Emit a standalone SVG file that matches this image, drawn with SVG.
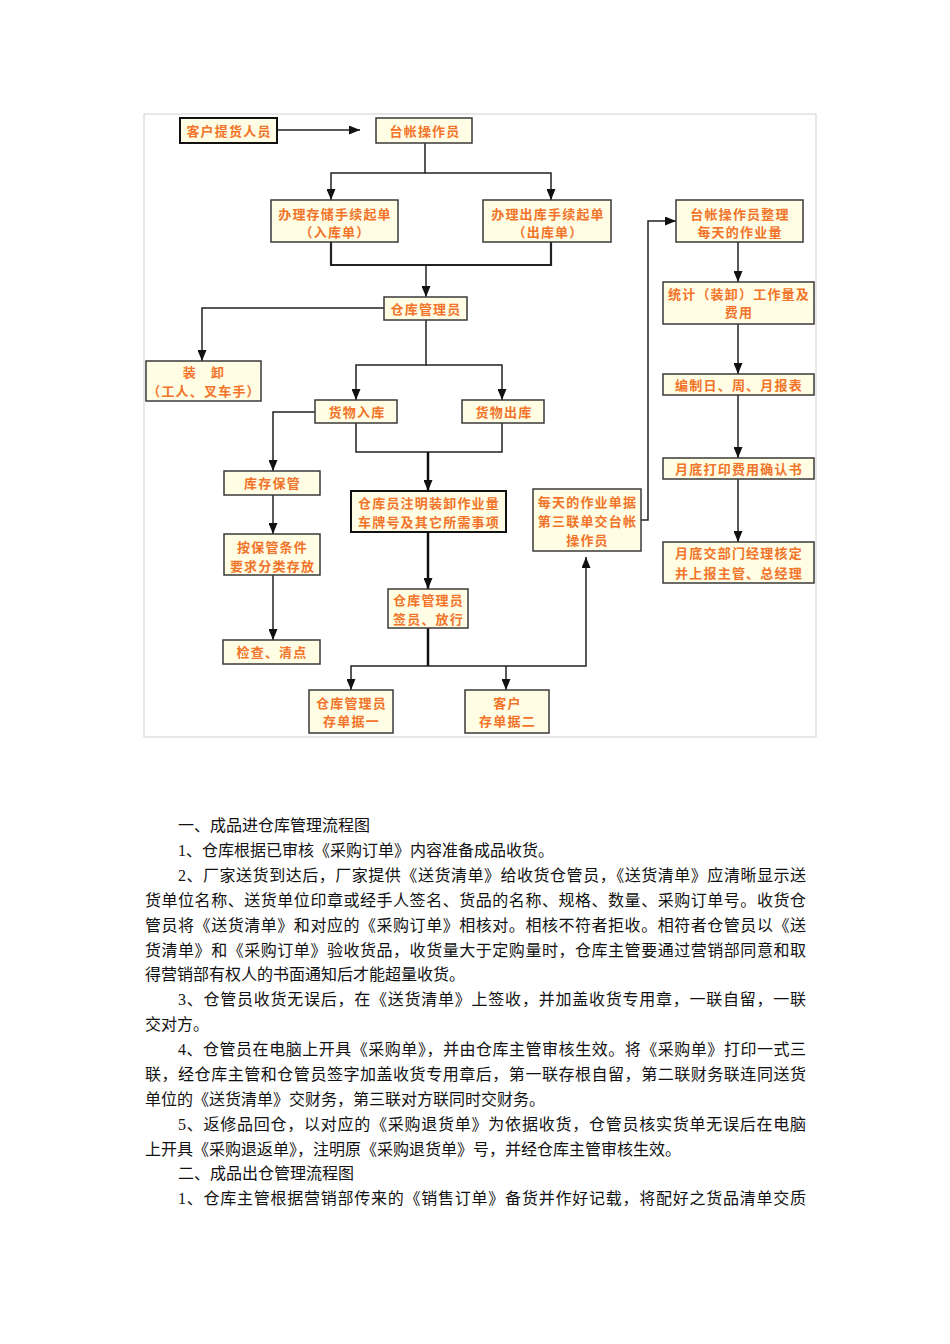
<svg xmlns="http://www.w3.org/2000/svg" width="950" height="1344" viewBox="0 0 950 1344">
<style>
.bx{fill:#FFFDE3;stroke:#3a3a3a;stroke-width:1.5}
.bxk{fill:#FFFDE3;stroke:#111;stroke-width:2}
.t{font-family:"Noto Sans CJK SC","Noto Sans",sans-serif;font-size:13px;font-weight:bold;fill:#F2742A;text-anchor:middle;letter-spacing:1.2px}
.ln{fill:none;stroke:#222;stroke-width:1.5}
.lk{fill:none;stroke:#111;stroke-width:2.5}
.p{font-family:"Liberation Serif","Noto Sans CJK SC",serif;font-size:16px;fill:#111}
</style>
<defs>
<marker id="ar" viewBox="0 0 11 9" refX="11" refY="4.5" markerWidth="11" markerHeight="9" orient="auto" markerUnits="userSpaceOnUse">
<path d="M0,0 L11,4.5 L0,9 z" fill="#111"/>
</marker>
</defs>
<rect x="144" y="114" width="672" height="623" fill="none" stroke="#d0d0d0" stroke-width="1"/>
<g id="connectors">
<path class="ln" d="M277,130 H360" marker-end="url(#ar)"/>
<path class="ln" d="M425,143 V173 H331 V200" marker-end="url(#ar)"/>
<path class="ln" d="M425,173 H551 V200" marker-end="url(#ar)"/>
<path class="ln" d="M331,242 V265 H551 V242" style="stroke-width:2.2"/>
<path class="ln" d="M426,265 V297" marker-end="url(#ar)"/>
<path class="ln" d="M384,308 H202 V361" marker-end="url(#ar)"/>
<path class="ln" d="M426,320 V365 H356 V400" marker-end="url(#ar)"/>
<path class="ln" d="M426,365 H502 V400" marker-end="url(#ar)"/>
<path class="ln" d="M315,412 H273 V471" marker-end="url(#ar)"/>
<path class="ln" d="M273,495 V534" marker-end="url(#ar)"/>
<path class="ln" d="M273,575 V640" marker-end="url(#ar)"/>
<path class="ln" d="M356,423 V452 H502 V423"/>
<path class="lk" d="M428,452 V491" marker-end="url(#ar)"/>
<path class="lk" d="M428,532 V589" marker-end="url(#ar)"/>
<path class="lk" d="M428,628 V666"/>
<path class="ln" d="M428,666 H351 V690" marker-end="url(#ar)"/>
<path class="ln" d="M428,666 H586 V557" marker-end="url(#ar)"/>
<path class="ln" d="M506,666 V690" marker-end="url(#ar)"/>
<path class="ln" d="M641,520 H648 V221 H676" marker-end="url(#ar)"/>
<path class="ln" d="M738,242 V282" marker-end="url(#ar)"/>
<path class="ln" d="M738,324 V374" marker-end="url(#ar)"/>
<path class="ln" d="M738,395 V458" marker-end="url(#ar)"/>
<path class="ln" d="M738,479 V542" marker-end="url(#ar)"/>
</g>
<g id="n1"><rect class="bxk" x="180" y="118" width="97" height="25"/><text class="t" x="229" y="135.5">客户提货人员</text></g>
<g id="n2"><rect class="bx" x="376" y="118" width="96" height="25"/><text class="t" x="425" y="135.5">台帐操作员</text></g>
<g id="n3"><rect class="bx" x="271" y="200" width="127" height="42"/><text class="t" x="335" y="219">办理存储手续起单</text><text class="t" x="335" y="237">（入库单）</text></g>
<g id="n4"><rect class="bx" x="483" y="200" width="128" height="42"/><text class="t" x="548" y="219">办理出库手续起单</text><text class="t" x="548" y="237">（出库单）</text></g>
<g id="n5"><rect class="bx" x="384" y="297" width="83" height="23"/><text class="t" x="426" y="313.5">仓库管理员</text></g>
<g id="n6"><rect class="bx" x="146" y="361" width="115" height="40"/><text class="t" x="204" y="377">装　卸</text><text class="t" x="204" y="396">（工人、叉车手）</text></g>
<g id="n7"><rect class="bx" x="315" y="400" width="82" height="23"/><text class="t" x="357" y="416.5">货物入库</text></g>
<g id="n8"><rect class="bx" x="462" y="400" width="82" height="23"/><text class="t" x="504" y="416.5">货物出库</text></g>
<g id="n9"><rect class="bx" x="224" y="471" width="96" height="24"/><text class="t" x="272.5" y="488">库存保管</text></g>
<g id="n10"><rect class="bx" x="224" y="534" width="96" height="41"/><text class="t" x="272.5" y="551.5">按保管条件</text><text class="t" x="272.5" y="571">要求分类存放</text></g>
<g id="n11"><rect class="bx" x="223" y="640" width="97" height="24"/><text class="t" x="272" y="657">检查、清点</text></g>
<g id="n12"><rect class="bxk" x="351" y="491" width="155" height="41"/><text class="t" x="429" y="507.5">仓库员注明装卸作业量</text><text class="t" x="429" y="527">车牌号及其它所需事项</text></g>
<g id="n13"><rect class="bx" x="388" y="589" width="80" height="39"/><text class="t" x="428.5" y="604.5">仓库管理员</text><text class="t" x="428.5" y="623.5">签员、放行</text></g>
<g id="n14"><rect class="bx" x="309" y="690" width="84" height="43"/><text class="t" x="351.5" y="707.5">仓库管理员</text><text class="t" x="351.5" y="725.5">存单据一</text></g>
<g id="n15"><rect class="bx" x="465" y="690" width="84" height="43"/><text class="t" x="507.5" y="707.5">客户</text><text class="t" x="507.5" y="725.5">存单据二</text></g>
<g id="n16"><rect class="bx" x="533" y="489" width="108" height="62"/><text class="t" x="587.5" y="506.5">每天的作业单据</text><text class="t" x="587.5" y="525.5">第三联单交台帐</text><text class="t" x="587.5" y="544.5">操作员</text></g>
<g id="n17"><rect class="bx" x="676" y="200" width="127" height="42"/><text class="t" x="740" y="218.5">台帐操作员整理</text><text class="t" x="740" y="237">每天的作业量</text></g>
<g id="n18"><rect class="bx" x="663" y="282" width="151" height="42"/><text class="t" x="739" y="299">统计（装卸）工作量及</text><text class="t" x="739" y="317">费用</text></g>
<g id="n19"><rect class="bx" x="663" y="374" width="151" height="21"/><text class="t" x="739" y="390">编制日、周、月报表</text></g>
<g id="n20"><rect class="bx" x="663" y="458" width="151" height="21"/><text class="t" x="739" y="474">月底打印费用确认书</text></g>
<g id="n21"><rect class="bx" x="663" y="542" width="151" height="41"/><text class="t" x="739" y="558">月底交部门经理核定</text><text class="t" x="739" y="578">并上报主管、总经理</text></g>
<g id="body">
<text class="p" x="178" y="831">一、成品进仓库管理流程图</text>
<text class="p" x="178" y="856">1、仓库根据已审核《采购订单》内容准备成品收货。</text>
<text class="p" x="178" y="881" textLength="628" lengthAdjust="spacing">2、厂家送货到达后，厂家提供《送货清单》给收货仓管员，《送货清单》应清晰显示送</text>
<text class="p" x="145" y="906" textLength="661" lengthAdjust="spacing">货单位名称、送货单位印章或经手人签名、货品的名称、规格、数量、采购订单号。收货仓</text>
<text class="p" x="145" y="931" textLength="661" lengthAdjust="spacing">管员将《送货清单》和对应的《采购订单》相核对。相核不符者拒收。相符者仓管员以《送</text>
<text class="p" x="145" y="956" textLength="661" lengthAdjust="spacing">货清单》和《采购订单》验收货品，收货量大于定购量时，仓库主管要通过营销部同意和取</text>
<text class="p" x="145" y="980">得营销部有权人的书面通知后才能超量收货。</text>
<text class="p" x="178" y="1005" textLength="628" lengthAdjust="spacing">3、仓管员收货无误后，在《送货清单》上签收，并加盖收货专用章，一联自留，一联</text>
<text class="p" x="145" y="1030">交对方。</text>
<text class="p" x="178" y="1055" textLength="628" lengthAdjust="spacing">4、仓管员在电脑上开具《采购单》，并由仓库主管审核生效。将《采购单》打印一式三</text>
<text class="p" x="145" y="1080" textLength="661" lengthAdjust="spacing">联，经仓库主管和仓管员签字加盖收货专用章后，第一联存根自留，第二联财务联连同送货</text>
<text class="p" x="145" y="1105">单位的《送货清单》交财务，第三联对方联同时交财务。</text>
<text class="p" x="178" y="1130" textLength="628" lengthAdjust="spacing">5、返修品回仓，以对应的《采购退货单》为依据收货，仓管员核实货单无误后在电脑</text>
<text class="p" x="145" y="1155">上开具《采购退返单》，注明原《采购退货单》号，并经仓库主管审核生效。</text>
<text class="p" x="178" y="1179">二、成品出仓管理流程图</text>
<text class="p" x="178" y="1204" textLength="628" lengthAdjust="spacing">1、仓库主管根据营销部传来的《销售订单》备货并作好记载，将配好之货品清单交质</text>
</g>
</svg>
